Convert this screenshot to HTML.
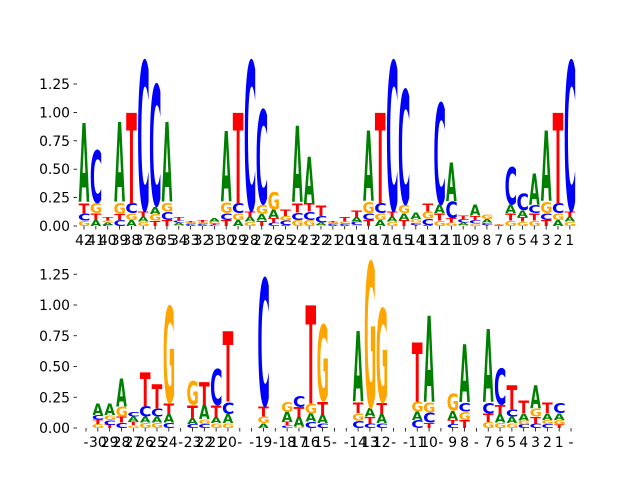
<!DOCTYPE html>
<html><head><meta charset="utf-8"><style>
html,body{margin:0;padding:0;background:#fff;}
svg text.tick{font-family:"DejaVu Sans","Liberation Sans",sans-serif;font-size:13.9px;fill:#000;}
</style></head>
<body>
<svg id="chart" width="640" height="480" viewBox="0 0 640 480" xmlns="http://www.w3.org/2000/svg">
<rect width="640" height="480" fill="#fff"/>
<g id="top-panel"></g>
<g id="bottom-panel"></g>
</svg>
<script>
const topLabels = ["42","41","40","39","38","37","36","35","34","33","32","31","30","29","28","27","26","25","24","23","22","21","20","19","18","17","16","15","14","13","12","11","10","9","8","7","6","5","4","3","2","1"];
const topA = [0.70,0.053,0.02,0.71,0.053,0.044,0.065,0.71,0.02,0.01,0.01,0.03,0.625,0.053,0.044,0.059,0.073,0.01,0.68,0.41,0.02,0.01,0.01,0.04,0.63,0.053,0.044,0.059,0.06,0.01,0.073,0.34,0.02,0.1,0.03,0.005,0.073,0.06,0.28,0.63,0.053,0.044];
const topC = [0.065,0.48,0.01,0.053,0.088,1.36,1.10,0.073,0.02,0.01,0.01,0.01,0.059,0.088,1.36,0.857,0.03,0.04,0.065,0.073,0.06,0.01,0.01,0.03,0.059,0.088,1.36,1.04,0.02,0.053,0.92,0.147,0.03,0.03,0.02,0.005,0.34,0.147,0.073,0.059,0.088,1.36];
const topG = [0.047,0.088,0.02,0.1,0.059,0.038,0.059,0.079,0.01,0.01,0.01,0.02,0.094,0.059,0.038,0.082,0.16,0.04,0.053,0.053,0.01,0.01,0.02,0.01,0.1,0.059,0.038,0.073,0.03,0.065,0.047,0.03,0.01,0.02,0.04,0.005,0.047,0.038,0.047,0.1,0.059,0.038];
const topT = [0.088,0.059,0.03,0.053,0.81,0.044,0.047,0.053,0.03,0.01,0.02,0.01,0.053,0.81,0.044,0.047,0.038,0.06,0.082,0.073,0.09,0.01,0.04,0.06,0.053,0.81,0.044,0.053,0.01,0.067,0.065,0.038,0.03,0.04,0.01,0.005,0.065,0.04,0.065,0.053,0.81,0.044];

const botLabels = ["-","30","29","28","27","26","25","24","-","23","22","21","20","-","-","19","-","18","17","16","15","-","-","14","13","12","-","-","11","10","-","9","8","-","7","6","5","4","3","2","1","-"];
const botA = [0,0.095,0.095,0.23,0.04,0.049,0.049,0.07,0,0.046,0.117,0.05,0.076,0,0,0.038,0,0.08,0.08,0.068,0.068,0,0,0.58,0.068,0.076,0,0,0.068,0.71,0,0.076,0.48,0,0.6,0.07,0.054,0.06,0.19,0.054,0.054,0];
const botC = [0,0.038,0.04,0.043,0.04,0.087,0.068,0.043,0,0.033,0.033,0.3,0.1,0,0,1.07,0,0.024,0.095,0.05,0.038,0,0,0.06,0.038,0.038,0,0,0.065,0.081,0,0.033,0.073,0,0.087,0.3,0.06,0.03,0.038,0.033,0.08,0];
const botG = [0,0.033,0.04,0.081,0.024,0.043,0.043,0.81,0,0.2,0.038,0.04,0.038,0,0,0.054,0,0.08,0.01,0.081,0.64,0,0,0.06,1.22,0.79,0,0,0.081,0.081,0,0.14,0.068,0,0.05,0.043,0.038,0.03,0.068,0.033,0.038,0];
const botT = [0,0.035,0.024,0.049,0.027,0.28,0.2,0.087,0,0.108,0.19,0.095,0.58,0,0,0.081,0,0.027,0.08,0.81,0.108,0,0,0.087,0.054,0.092,0,0,0.49,0.043,0,0.033,0.065,0,0.068,0.073,0.2,0.1,0.054,0.087,0.027,0];

const yTicks = [0,0.25,0.5,0.75,1.0,1.25];
const yTickLabels = ["0.00","0.25","0.50","0.75","1.00","1.25"];

const NS = "http://www.w3.org/2000/svg";
const colors = {A:"#008000",C:"#0000ff",G:"#ffa500",T:"#ff0000"};
const cv = document.createElement("canvas");
const ctx = cv.getContext("2d");
ctx.font = "bold 100px 'DejaVu Sans'";
const metrics = {};
["A","C","G","T"].forEach(function(ch){
  const m = ctx.measureText(ch);
  let l = m.actualBoundingBoxLeft, r = m.actualBoundingBoxRight, a = m.actualBoundingBoxAscent, d = m.actualBoundingBoxDescent;
  if (!(r + l > 0)) { l = -5; r = 72; a = 73; d = 1; }
  metrics[ch] = {l:l, r:r, a:a, d:d};
});

function drawPanel(g, cfg, labels, vals) {
  const xs = function(i){ return cfg.x0 + i * cfg.dx; };
  const ys = function(v){ return cfg.base - v * cfg.py; };
  // y ticks
  yTicks.forEach(function(t, k){
    const y = ys(t);
    const ln = document.createElementNS(NS, "line");
    
    
    ln.setAttribute("x1", cfg.axX - 3.5); ln.setAttribute("x2", cfg.axX);
    ln.setAttribute("y1", y); ln.setAttribute("y2", y);
    ln.setAttribute("stroke", "#000"); ln.setAttribute("stroke-width", "0.8");
    g.appendChild(ln);
    const tx = document.createElementNS(NS, "text");
    
    
    tx.setAttribute("class", "tick");
    tx.setAttribute("x", cfg.axX - 7); tx.setAttribute("y", y + 5);
    tx.setAttribute("text-anchor", "end");
    tx.textContent = yTickLabels[k];
    g.appendChild(tx);
  });
  // x ticks
  labels.forEach(function(lab, i){
    const x = xs(i);
    const ln = document.createElementNS(NS, "line");
    
    
    ln.setAttribute("x1", x); ln.setAttribute("x2", x);
    ln.setAttribute("y1", cfg.base); ln.setAttribute("y2", cfg.base + 3.5);
    ln.setAttribute("stroke", "#000"); ln.setAttribute("stroke-width", "0.8");
    g.appendChild(ln);
    const tx = document.createElementNS(NS, "text");
    
    
    tx.setAttribute("class", "tick");
    tx.setAttribute("x", x); tx.setAttribute("y", cfg.base + 19);
    tx.setAttribute("text-anchor", "middle");
    tx.textContent = lab;
    g.appendChild(tx);
  });
  // letters
  const w = cfg.dx * 0.9;
  labels.forEach(function(lab, i){
    const stack = ["A","C","G","T"].map(function(ch){ return {ch:ch, v:vals[ch][i]}; })
      .filter(function(o){ return o.v > 0; })
      .sort(function(a,b){ return a.v - b.v; });
    let cum = 0;
    stack.forEach(function(o){
      const yb = ys(cum), yt = ys(cum + o.v);
      cum += o.v;
      const h = yb - yt;
      const m = metrics[o.ch];
      const sx = w / (m.l + m.r), sy = h / (m.a + m.d);
      const x0 = xs(i) - w / 2;
      const t = document.createElementNS(NS, "text");
      
      
      t.setAttribute("x", 0); t.setAttribute("y", 0);
      t.setAttribute("font-family", "DejaVu Sans");
      t.setAttribute("font-weight", "bold");
      t.setAttribute("font-size", "100");
      t.setAttribute("fill", colors[o.ch]);
      t.setAttribute("transform", "translate(" + (x0 + m.l * sx) + "," + (yb - m.d * sy) + ") scale(" + sx + "," + sy + ")");
      t.textContent = o.ch;
      g.appendChild(t);
    });
  });
}

drawPanel(document.getElementById("top-panel"),
  {x0:84, dx:11.85, base:226, py:113.6, axX:77},
  topLabels, {A:topA, C:topC, G:topG, T:topT});
drawPanel(document.getElementById("bottom-panel"),
  {x0:86, dx:11.83, base:428, py:123, axX:77},
  botLabels, {A:botA, C:botC, G:botG, T:botT});
</script>
</body></html>
